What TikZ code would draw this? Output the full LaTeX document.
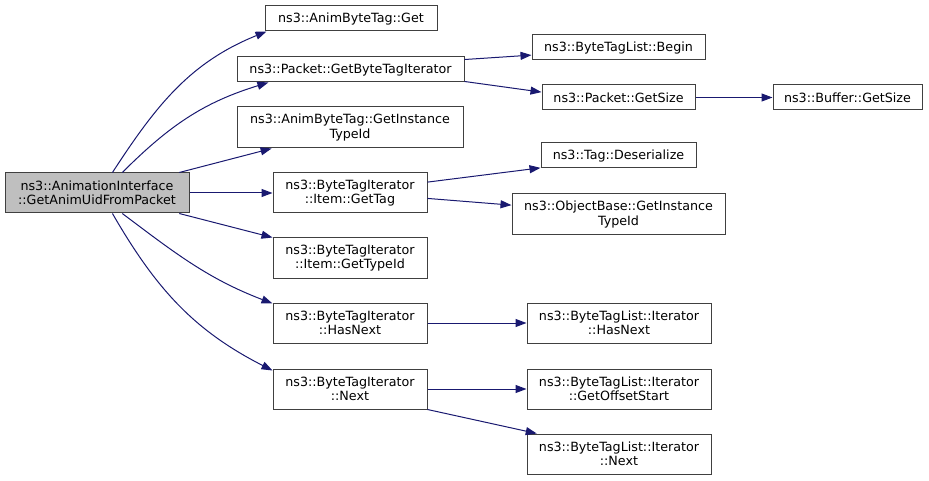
\documentclass[tikz,border=0pt]{standalone}
\usepackage{fontspec}
\setmainfont{DejaVu Sans}
\usetikzlibrary{arrows.meta}
\definecolor{midnightblue}{HTML}{191970}
\definecolor{grey25}{HTML}{404040}
\definecolor{grey75}{HTML}{BFBFBF}
\tikzset{
	func/.style={draw=grey25,line width=1pt,inner sep=0pt,align=center,font=\fontsize{12.7}{14.5}\selectfont},%
	current/.style={func,fill=grey75},%
	box/.style 2 args={minimum width=#1pt,minimum height=#2pt},%
	call/.style={draw=midnightblue,line width=1pt,-{Triangle[length=11pt,width=8pt,fill=midnightblue]}},%
}

\begin{document}
\begin{tikzpicture}[%
		x=1pt,y=1pt,%
		]
		\useasboundingbox (0,0) rectangle (929,-481);
		\node[current,box={184}{40}] (mainfn) at (97,-193) {ns3::AnimationInterface\\::GetAnimUidFromPacket};
		\node[func,box={172}{25}] (get) at (351,-18.5) {ns3::AnimByteTag::Get};
		\node[func,box={227}{25}] (gbti) at (350.5,-69.5) {ns3::Packet::GetByteTagIterator};
		\node[func,box={226}{41}] (abtgit) at (350,-127.5) {ns3::AnimByteTag::GetInstance\\TypeId};
		\node[func,box={173}{25}] (begin) at (618.5,-47.5) {ns3::ByteTagList::Begin};
		\node[func,box={153}{25}] (pgetsize) at (618.5,-97.5) {ns3::Packet::GetSize};
		\node[func,box={149}{25}] (bgetsize) at (847.5,-97.5) {ns3::Buffer::GetSize};
		\node[func,box={154}{40}] (gettag) at (350,-193) {ns3::ByteTagIterator\\::Item::GetTag};
		\node[func,box={155}{25}] (deser) at (618.5,-155.5) {ns3::Tag::Deserialize};
		\node[func,box={213}{41}] (obgit) at (618.5,-214.5) {ns3::ObjectBase::GetInstance\\TypeId};
		\node[func,box={154}{40}] (gettypeid) at (350,-258) {ns3::ByteTagIterator\\::Item::GetTypeId};
		\node[func,box={154}{40}] (hasnext) at (350,-323) {ns3::ByteTagIterator\\::HasNext};
		\node[func,box={184}{40}] (listhasnext) at (619,-323) {ns3::ByteTagList::Iterator\\::HasNext};
		\node[func,box={154}{40}] (next) at (350,-389) {ns3::ByteTagIterator\\::Next};
		\node[func,box={184}{40}] (offset) at (619,-389) {ns3::ByteTagList::Iterator\\::GetOffsetStart};
		\node[func,box={184}{40}] (listnext) at (619,-454) {ns3::ByteTagList::Iterator\\::Next};
		\draw[call] (mainfn.53) to[out=57,in=202] ([xshift=2pt]get.south west);
		\draw[call] (mainfn.39) to[out=45,in=197] (gbti.189);
		\draw[call] (mainfn.14) -- (abtgit.195);
		\draw[call] (mainfn.east) -- (gettag.west);
		\draw[call] (mainfn.-14) -- (gettypeid.north west);
		\draw[call] (mainfn.-39) to[out=-37,in=159] ([yshift=-1pt]hasnext.north west);
		\draw[call] (mainfn.-53) to[out=-60,in=153] ([yshift=-2pt]next.north west);
		\draw[call] (gbti.5) -- (begin.185);
		\draw[call] (gbti.-6) -- (pgetsize.176);
		\draw[call] (pgetsize.east) -- (bgetsize.west);
		\draw[call] (gettag.8) -- (deser.189);
		\draw[call] (gettag.-4) -- (obgit.175);
		\draw[call] (hasnext.east) -- (listhasnext.west);
		\draw[call] (next.east) -- (offset.west);
		\draw[call] (next.south east) -- (listnext.166);
	\end{tikzpicture}
\end{document}
